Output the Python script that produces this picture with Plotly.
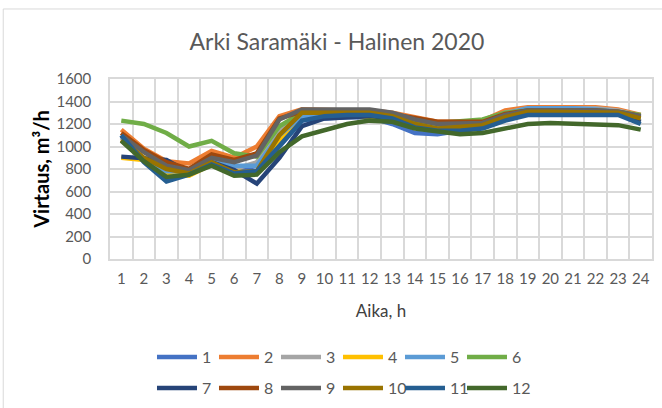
import plotly.graph_objects as go

# Hourly flow (m3/h) for 12 weekday profiles, hours 1..24
hours = list(range(1, 25))
series_names = [str(i) for i in range(1, 13)]

s1 = [1100, 880, 760, 760, 870, 820, 780, 1000, 1230, 1250, 1260, 1260,
      1200, 1120, 1110, 1140, 1170, 1250, 1300, 1300, 1300, 1300, 1290, 1260]
s2 = [1150, 980, 870, 850, 960, 900, 1000, 1270, 1330, 1320, 1320, 1320,
      1300, 1260, 1220, 1220, 1230, 1320, 1350, 1350, 1350, 1350, 1330, 1280]
s3 = [1080, 880, 760, 780, 880, 800, 860, 1150, 1300, 1300, 1300, 1310,
      1280, 1220, 1200, 1200, 1220, 1300, 1340, 1340, 1340, 1340, 1320, 1270]
s4 = [900, 880, 750, 740, 840, 780, 760, 1050, 1250, 1260, 1270, 1260,
      1240, 1180, 1160, 1170, 1190, 1270, 1310, 1310, 1310, 1310, 1300, 1260]
s5 = [1100, 880, 780, 780, 880, 830, 830, 1100, 1270, 1280, 1280, 1290,
      1260, 1200, 1180, 1190, 1210, 1290, 1340, 1340, 1340, 1330, 1310, 1260]
s6 = [1230, 1200, 1120, 1000, 1050, 940, 910, 1180, 1300, 1300, 1300, 1310,
      1280, 1230, 1210, 1220, 1240, 1300, 1320, 1320, 1320, 1320, 1310, 1280]
s7 = [910, 890, 880, 770, 860, 790, 670, 900, 1180, 1250, 1260, 1270,
      1250, 1180, 1150, 1150, 1170, 1250, 1290, 1290, 1290, 1290, 1290, 1220]
s8 = [1120, 970, 860, 800, 930, 880, 940, 1250, 1310, 1310, 1310, 1320,
      1290, 1250, 1220, 1220, 1220, 1290, 1320, 1320, 1320, 1320, 1310, 1270]
s9 = [1100, 950, 830, 790, 900, 860, 920, 1240, 1330, 1330, 1330, 1330,
      1300, 1240, 1200, 1200, 1210, 1280, 1320, 1320, 1320, 1320, 1310, 1270]
s10 = [1060, 900, 800, 760, 860, 770, 780, 1100, 1300, 1300, 1300, 1300,
       1270, 1200, 1160, 1180, 1190, 1260, 1310, 1310, 1310, 1300, 1300, 1250]
s11 = [1100, 860, 690, 750, 840, 760, 780, 1000, 1230, 1270, 1280, 1280,
       1250, 1170, 1140, 1140, 1160, 1230, 1280, 1280, 1280, 1280, 1280, 1200]
s12 = [1050, 870, 730, 750, 830, 740, 750, 950, 1090, 1140, 1200, 1230,
       1220, 1160, 1130, 1110, 1120, 1160, 1200, 1210, 1200, 1190, 1190, 1150]

all_series = [s1, s2, s3, s4, s5, s6, s7, s8, s9, s10, s11, s12]
colors = ["#4472C4", "#ED7D31", "#A5A5A5", "#FFC000", "#5B9BD5", "#70AD47",
          "#264478", "#9E480E", "#636363", "#997300", "#255E91", "#43682B"]

FONT = "Lato, 'Open Sans', sans-serif"
GRID = "#d9d9d9"
TXT = "#595959"

fig = go.Figure()
for i, (name, vals, col) in enumerate(zip(series_names, all_series, colors)):
    fig.add_trace(go.Scatter(
        x=hours, y=vals, name=name, mode="lines",
        line=dict(color=col, width=4.5),
        legend="legend" if i < 6 else "legend2",
    ))

# empty trailing entries keep the last legend label of each row from being clipped
for lg in ("legend", "legend2"):
    fig.add_trace(go.Scatter(
        x=[None], y=[None], name=" ", mode="lines",
        line=dict(color="rgba(0,0,0,0)", width=0),
        legend=lg, hoverinfo="skip",
    ))

legend_common = dict(
    orientation="h", xanchor="left", yanchor="middle",
    xref="container", yref="container",
    font=dict(family=FONT, size=16, color=TXT),
    itemwidth=40, entrywidth=7, entrywidthmode="pixels",
    bgcolor="rgba(0,0,0,0)", borderwidth=0, tracegroupgap=0,
)

fig.update_layout(
    width=662, height=408,
    margin=dict(l=110, r=10, t=79, b=149, autoexpand=False),
    paper_bgcolor="white", plot_bgcolor="white",
    font=dict(family=FONT, color=TXT),
    title=dict(text="Arki Saramäki - Halinen 2020", x=0.509, xanchor="center",
               y=0.897, yanchor="middle", yref="container",
               font=dict(family=FONT, size=23, color=TXT)),
    legend=dict(x=0.2296, y=0.125, **legend_common),
    legend2=dict(x=0.2296, y=0.049, **legend_common),
    xaxis=dict(
        range=[0.5, 24.5], tickmode="array", tickvals=hours,
        ticktext=[str(h) for h in hours], showgrid=False, zeroline=False,
        minor=dict(tick0=0.5, dtick=1, showgrid=True, gridcolor=GRID, gridwidth=1.5),
        showline=True, mirror=True, linecolor=GRID, linewidth=1.5,
        ticks="", ticklabelstandoff=5,
        tickfont=dict(family=FONT, size=15, color=TXT),
        title=dict(text="Aika, h", standoff=19,
                   font=dict(family=FONT, size=17, color="#404040")),
    ),
    yaxis=dict(
        range=[0, 1600], dtick=200, showgrid=True, gridcolor=GRID, gridwidth=1.5,
        zeroline=False, showline=True, mirror=True, linecolor=GRID, linewidth=1.5,
        ticks="", ticklabelstandoff=14,
        tickfont=dict(family=FONT, size=15, color=TXT),
        title=dict(text="<b>Virtaus, m³/h</b>", standoff=1,
                   font=dict(family=FONT, size=20, color="black")),
    ),
    shapes=[dict(type="rect", xref="paper", yref="paper",
                 x0=-0.197, y0=-2, x1=1.2, y1=1.389,
                 line=dict(color=GRID, width=1), fillcolor="rgba(0,0,0,0)",
                 layer="below")],
)

fig.write_html("out.html")
